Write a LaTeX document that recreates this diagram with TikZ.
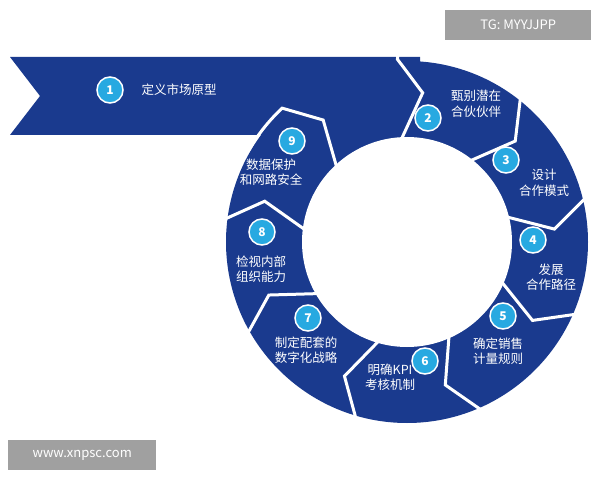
\documentclass[tikz,border=0pt]{standalone}
\usepackage{fontspec}
\setmainfont{Noto Sans CJK SC}
\usetikzlibrary{calc}
\definecolor{ringblue}{HTML}{1A3A8E}
\definecolor{numblue}{HTML}{27A9E1}
\definecolor{wmgray}{HTML}{A0A0A0}
\begin{document}
\begin{tikzpicture}[x=1pt,y=1pt,
  num/.style={circle,fill=numblue,draw=white,line width=1.5pt,minimum size=26pt,inner sep=0pt,text=white,font=\fontsize{12}{12}\selectfont\bfseries},
  lbl/.style={text=white,align=center,font=\fontsize{12.5}{15.5}\selectfont},
  sep/.style={white,line width=3pt,line join=miter},
  wm/.style={fill=wmgray,text=white,font=\fontsize{13}{13}\selectfont,inner sep=4pt,anchor=west}]
\useasboundingbox (0,0) rectangle (600,480);
\coordinate (C) at (407,238);
% blue shape
\fill[ringblue] (10,423) -- (420,423) -- (420,345) -- (10,345) -- (40,384) -- cycle;
\fill[ringblue] (C) circle (181);
% separators
\foreach \a in {53,15,-22,-65,-105,-149,174}{
  \draw[sep] ($(C)+(\a:100)$) -- ($(C)+(\a-10:148)$) -- ($(C)+(\a:190)$);
}
\draw[sep] ($(C)+(94:100)$) -- ($(C)+(84:150)$) -- ($(C)+(93:183)$) -- (398,426);
\draw[sep] ($(C)+(134:100)$) -- ($(C)+(124.5:148)$) -- ($(C)+(133:183)$) arc (133:150:183);
\fill[white] (C) circle (105);
% numbers
\node[num] (n1) at (110,390) {1};
\node[num] (n2) at (428,362) {2};
\node[num] (n3) at (506,320) {3};
\node[num] (n4) at (533,240) {4};
\node[num] (n5) at (503,164) {5};
\node[num] (n6) at (425,119) {6};
\node[num] (n7) at (308,162) {7};
\node[num] (n8) at (262,248) {8};
\node[num] (n9) at (292,339) {9};
% labels
\node[lbl,anchor=west] (t1) at (138,390) {定义市场原型};
\node[lbl] (t2) at (476,376) {甄别潜在\\合伙伙伴};
\node[lbl] (t3) at (544,297) {设计\\合作模式};
\node[lbl] (t4) at (551,203) {发展\\合作路径};
\node[lbl] (t5) at (498,129) {确定销售\\计量规则};
\node[lbl] (t6) at (390,103) {明确KPI\\考核机制};
\node[lbl] (t7) at (306,130) {制定配套的\\数字化战略};
\node[lbl] (t8) at (261,211) {检视内部\\组织能力};
\node[lbl] (t9) at (271,308) {数据保护\\和网路安全};
% watermarks
\node[wm,minimum width=146pt,minimum height=30pt] (w1) at (445,455) {TG: MYYJJPP};
\node[wm,minimum width=148pt,minimum height=30pt] (w2) at (8,25) {www.xnpsc.com};
\end{tikzpicture}
\end{document}
